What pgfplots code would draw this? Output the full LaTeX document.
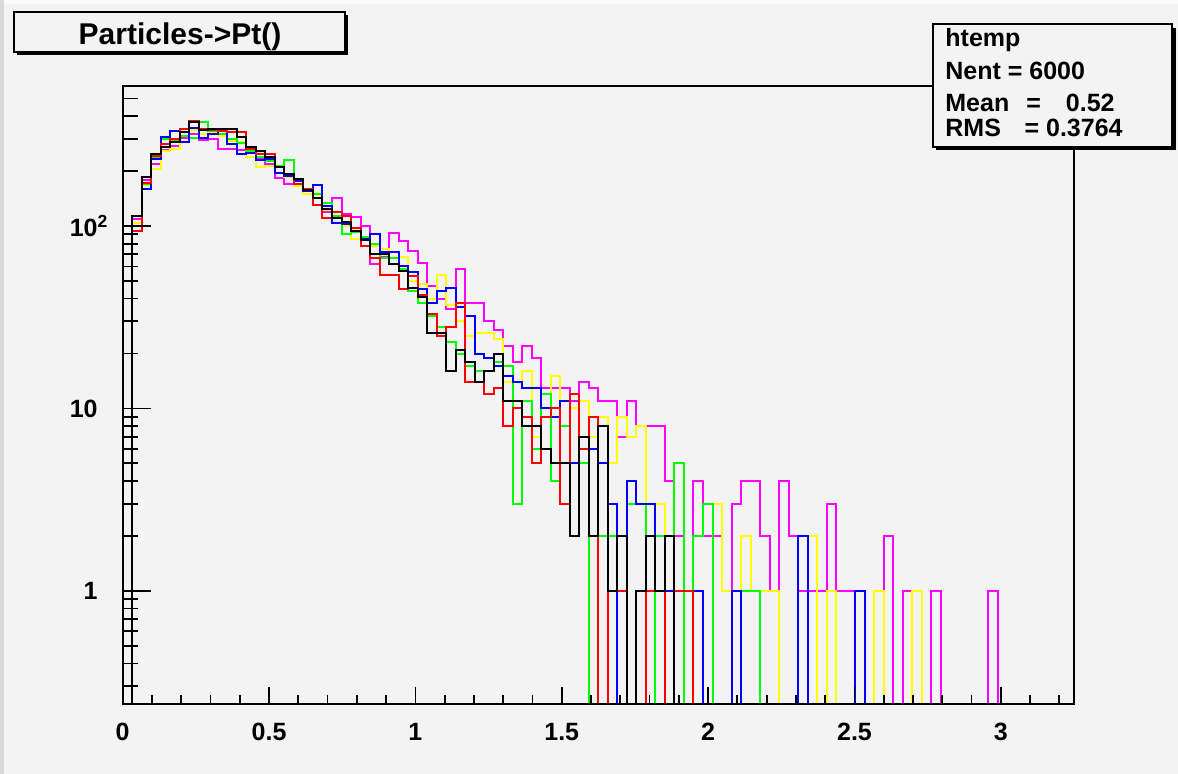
\documentclass[border=0pt]{standalone}
\usepackage{fontspec}
\setmainfont{Liberation Sans}
\usepackage{pgfplots}
\pgfplotsset{compat=1.18}
\usepackage{pgfplotstable}

\definecolor{rootbg}{RGB}{243,243,243}
\definecolor{rootstrip}{RGB}{216,216,216}
\definecolor{hred}{RGB}{255,0,0}
\definecolor{hgreen}{RGB}{0,255,0}
\definecolor{hblue}{RGB}{0,0,255}
\definecolor{hyellow}{RGB}{255,255,0}
\definecolor{hmag}{RGB}{255,0,255}

% bin contents, 100 bins of width 0.0325 from 0 (one row per bin, last row closes the outline)
\pgfplotstableread{
bk  rd  gr  bl  ye  mg
0   0   0   0   0   0
113 94  100 100 104 109
185 172 170 160 168 178
249 243 238 233 205 218
271 280 300 307 258 262
288 300 292 330 265 275
327 340 310 290 310 303
371 378 305 345 335 320
335 340 370 305 320 295
341 335 330 318 325 298
341 333 320 333 312 265
341 327 300 282 292 265
307 327 285 249 290 262
271 265 258 250 240 250
258 247 239 230 210 235
239 247 228 232 212 218
210 210 213 195 195 183
193 193 230 188 185 170
180 170 180 176 165 170
158 160 160 155 150 150
142 130 150 167 147 148
124 110 133 128 122 120
110 120 114 104 112 142
105 113 90  103 100 117
94  97  93  98  85  112
84  78  87  85  86  100
70  67  80  90  78  62
70  54  67  72  75  68
62  54  67  72  67  91
57  45  58  60  68  83
46  53  44  56  50  73
41  42  38  45  48  63
26  33  32  38  40  47
26  25  28  44  54  40
16  28  23  46  37  35
21  38  20  36  30  58
18  14  17  32  25  38
14  14  16  20  26  38
16  12  16  19  26  30
20  13  18  17  24  27
11  8   17  15  14  22
11  10  3   14  14  18
8   9   11  13  16  22
8   5   6   13  7   19
6   9   12  10  9   13
5   10  4   9   15  13
5   3   8   11  11  13
2   12  5   5   10  11
7   6   5   6   11  14
2   9   0   6   7   13
8   0   2   5   9   11
1   1   2   3   5   11
2   1   2   0   9   7
0   0   3   4   7   11
1   0   3   3   8   8
2   1   0   3   3   8
1   1   2   1   3   8
2   0   2   1   1   4
0   1   5   1   1   2
0   1   0   1   1   1
0   0   2   1   1   4
0   0   3   0   0   2
0   0   0   0   3   2
0   0   0   0   1   1
0   0   0   1   1   3
0   0   1   0   2   4
0   0   1   0   1   4
0   0   0   0   1   2
0   0   0   0   1   1
0   0   0   0   0   4
0   0   0   0   0   2
0   0   0   2   0   1
0   0   0   0   2   1
0   0   0   0   0   1
0   0   0   0   1   3
0   0   0   0   0   1
0   0   0   0   0   1
0   0   0   1   0   0
0   0   0   0   0   0
0   0   0   0   1   0
0   0   0   0   0   2
0   0   0   0   0   0
0   0   0   0   0   1
0   0   0   0   1   0
0   0   0   0   0   0
0   0   0   0   0   1
0   0   0   0   0   0
0   0   0   0   0   0
0   0   0   0   0   0
0   0   0   0   0   0
0   0   0   0   0   0
0   0   0   0   0   1
0   0   0   0   0   0
0   0   0   0   0   0
0   0   0   0   0   0
0   0   0   0   0   0
0   0   0   0   0   0
0   0   0   0   0   0
0   0   0   0   0   0
0   0   0   0   0   0
0   0   0   0   0   0
}\hist

\newcommand{\tickfont}{\fontsize{12.5}{15}\selectfont\bfseries}

\begin{document}
\begin{tikzpicture}
\begin{scope}[x=0.5pt,y=-0.5pt]
  \fill[rootbg] (0,0) rectangle (1178,774);
  \fill[rootstrip] (0,0) rectangle (4,774);
  \fill[white!70!rootbg] (4,0) rectangle (1178,4);
\end{scope}

\begin{axis}[
  at={(61.35pt,-352pt)}, anchor=south west, scale only axis,
  width=475.65pt, height=309pt,
  xmin=0, xmax=3.25, ymode=log, ymin=0.24, ymax=585,
  axis on top, axis line style={line width=1pt},
  xtick=\empty,
  ytick={1,10,100}, yticklabels={1,10,10\rlap{\textsuperscript{2}}},
  minor ytick={0.3,0.4,0.5,0.6,0.7,0.8,0.9,2,3,4,5,6,7,8,9,20,30,40,50,60,70,80,90,200,300,400,500},
  ytick pos=left, tick align=inside,
  major tick length=14pt, minor tick length=7.5pt,
  tick style={line width=0.9pt,black},
  yticklabel style={font=\tickfont, xshift=-9pt},
  every axis plot/.append style={line width=1pt, const plot, no marks},
]
\addplot[hmag]    table[x expr=\coordindex*0.0325, y expr={max(\thisrow{mg},0.01)}] {\hist};
\addplot[hyellow] table[x expr=\coordindex*0.0325, y expr={max(\thisrow{ye},0.01)}] {\hist};
\addplot[hgreen]  table[x expr=\coordindex*0.0325, y expr={max(\thisrow{gr},0.01)}] {\hist};
\addplot[hblue]   table[x expr=\coordindex*0.0325, y expr={max(\thisrow{bl},0.01)}] {\hist};
\addplot[hred]    table[x expr=\coordindex*0.0325, y expr={max(\thisrow{rd},0.01)}] {\hist};
\addplot[black]   table[x expr=\coordindex*0.0325, y expr={max(\thisrow{bk},0.01)}] {\hist};
\end{axis}

\begin{axis}[
  at={(61.35pt,-352pt)}, anchor=south west, scale only axis,
  width=475.65pt, height=309pt,
  xmin=0, xmax=3.25, ymin=0, ymax=1,
  axis line style={line width=1pt},
  ytick=\empty,
  xtick={0,0.5,1,1.5,2,2.5,3}, xticklabels={0,0.5,1,1.5,2,2.5,3},
  minor xtick={0.1,0.2,0.3,0.4,0.6,0.7,0.8,0.9,1.1,1.2,1.3,1.4,1.6,1.7,1.8,1.9,2.1,2.2,2.3,2.4,2.6,2.7,2.8,2.9,3.1,3.2},
  xtick pos=left, tick align=inside,
  major tick length=8.5pt, minor tick length=4.5pt,
  tick style={line width=0.9pt,black},
  xticklabel style={font=\tickfont, yshift=-6pt},
]
\end{axis}

\begin{scope}[x=0.5pt,y=-0.5pt]
  % title box
  \fill[black] (17,15) rectangle (348,55);
  \filldraw[fill=rootbg, draw=black, line width=1pt] (14,12) rectangle (345,52);
  \node[anchor=base, inner sep=0pt, font=\fontsize{15}{18}\selectfont\bfseries] at (180,45) {Particles->Pt()};
  % stats box
  \fill[black] (936,28) rectangle (1176,150);
  \filldraw[fill=rootbg, draw=black, line width=1pt] (932.7,24.3) rectangle (1172.3,146.7);
  \begin{scope}[every node/.style={inner sep=0pt, font=\tickfont}]
    \node[anchor=base west] at (945,46.5) {htemp};
    \node[anchor=base west] at (945,80) {Nent = 6000};
    \node[anchor=base west] at (945,111.7) {Mean};
    \node[anchor=base west] at (1026,111.7) {=};
    \node[anchor=base east] at (1115,111.7) {0.52};
    \node[anchor=base west] at (945,136.7) {RMS};
    \node[anchor=base east] at (1123,136.7) {= 0.3764};
  \end{scope}
\end{scope}
\end{tikzpicture}
\end{document}
